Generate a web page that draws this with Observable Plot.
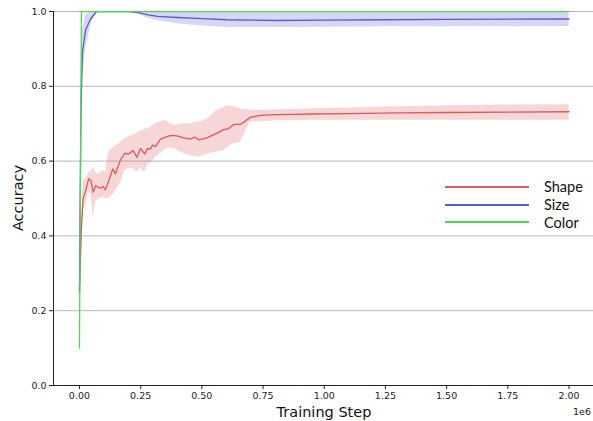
<!DOCTYPE html>
<html>
<head>
<meta charset="utf-8">
<script src="https://cdn.jsdelivr.net/npm/d3@7"></script>
<script src="https://cdn.jsdelivr.net/npm/@observablehq/plot@0.6"></script>
<style>
  body { margin: 0; background: #fff; }
  #wrap { position: relative; width: 593px; height: 421px; overflow: hidden; font-family: "DejaVu Sans", sans-serif; }
  #wrap svg { display: block; }
  .lab { position: absolute; color: #111; white-space: nowrap; }
  #legend { position: absolute; left: 445px; top: 178px; font-family: Lato, "Open Sans", sans-serif; font-size: 14.5px; color: #111; }
  #legend .row { display: flex; align-items: center; height: 17.7px; }
  #legend .sw { width: 84px; height: 2px; margin-right: 15px; }
</style>
</head>
<body>
<div id="wrap"></div>
<script>
// ---- data (steps in raw training steps) ----
const seriesNames  = ["Shape", "Size", "Color"];
const seriesColors = ["#dc5a5a", "#5a5ad8", "#4fd84f"];

const shapeStep = [0, 8000, 15000, 25000, 38000, 47000, 56000, 67000, 77000, 86000, 97000, 106000, 120000, 136000, 147000, 167000, 185000, 201000, 219000, 235000, 249000, 267000, 279000, 290000, 299000, 310000, 331000, 351000, 371000, 392000, 405000, 426000, 453000, 473000, 487000, 521000, 562000, 589000, 610000, 630000, 657000, 678000, 698000, 739000, 807000, 875000, 943000, 1100000, 1300000, 1500000, 1750000, 2000000];
const shapeMean = [0.25, 0.42, 0.50, 0.52, 0.553, 0.548, 0.517, 0.535, 0.530, 0.528, 0.532, 0.523, 0.548, 0.579, 0.566, 0.602, 0.621, 0.619, 0.628, 0.610, 0.634, 0.619, 0.634, 0.632, 0.643, 0.639, 0.659, 0.664, 0.668, 0.668, 0.666, 0.662, 0.659, 0.664, 0.657, 0.662, 0.675, 0.684, 0.687, 0.698, 0.698, 0.707, 0.717, 0.722, 0.724, 0.725, 0.726, 0.727, 0.729, 0.730, 0.731, 0.732];
const shapeLo   = [0.24, 0.40, 0.47, 0.48, 0.52, 0.51, 0.45, 0.49, 0.50, 0.50, 0.505, 0.50, 0.50, 0.51, 0.52, 0.54, 0.575, 0.58, 0.58, 0.57, 0.58, 0.57, 0.59, 0.595, 0.60, 0.61, 0.62, 0.632, 0.635, 0.632, 0.628, 0.62, 0.614, 0.612, 0.610, 0.618, 0.625, 0.628, 0.640, 0.646, 0.650, 0.680, 0.705, 0.705, 0.708, 0.708, 0.709, 0.709, 0.709, 0.709, 0.709, 0.709];
const shapeHi   = [0.26, 0.45, 0.55, 0.55, 0.57, 0.57, 0.585, 0.57, 0.565, 0.57, 0.575, 0.57, 0.625, 0.635, 0.64, 0.65, 0.66, 0.665, 0.67, 0.675, 0.68, 0.685, 0.688, 0.69, 0.695, 0.70, 0.705, 0.709, 0.70, 0.695, 0.697, 0.70, 0.699, 0.703, 0.704, 0.712, 0.735, 0.743, 0.748, 0.745, 0.740, 0.738, 0.736, 0.735, 0.737, 0.738, 0.740, 0.742, 0.745, 0.748, 0.750, 0.751];

const sizeStep = [0, 6000, 12000, 25000, 45000, 70000, 200000, 240000, 280000, 320000, 400000, 500000, 600000, 700000, 800000, 1000000, 1250000, 1500000, 2000000];
const sizeMean = [0.25, 0.72, 0.89, 0.95, 0.98, 1.0, 1.0, 0.997, 0.991, 0.987, 0.984, 0.981, 0.978, 0.977, 0.976, 0.977, 0.978, 0.979, 0.980];
const sizeLo   = [0.24, 0.62, 0.82, 0.90, 0.96, 1.0, 1.0, 0.993, 0.982, 0.975, 0.967, 0.961, 0.957, 0.957, 0.957, 0.958, 0.959, 0.959, 0.960];
const sizeHi   = [0.26, 0.80, 0.95, 0.99, 1.0, 1.0, 1.0, 1.0, 1.0, 1.0, 1.0, 1.0, 1.0, 1.0, 1.0, 1.0, 1.0, 1.0, 1.0];

const colorStep = [0, 8000, 2000000];
const colorMean = [0.10, 1.0, 1.0];
const colorLo   = [0.09, 1.0, 1.0];
const colorHi   = [0.11, 1.0, 1.0];

const xTicks = [0, 250000, 500000, 750000, 1000000, 1250000, 1500000, 1750000, 2000000];
const yTicks = [0.0, 0.2, 0.4, 0.6, 0.8, 1.0];
const xDomain = [-106000, 2100000];
const yDomain = [0, 1];

// ---- build tables ----
function rows(steps, mean, lo, hi, name) {
  return steps.map((s, i) => ({step: s, mean: mean[i], lo: lo[i], hi: hi[i], series: name}));
}
const shape = rows(shapeStep, shapeMean, shapeLo, shapeHi, seriesNames[0]);
const size  = rows(sizeStep,  sizeMean,  sizeLo,  sizeHi,  seriesNames[1]);
const color = rows(colorStep, colorMean, colorLo, colorHi, seriesNames[2]);
const tables = [shape, size, color];

const marks = [
  Plot.gridY(yTicks.filter(d => d > 0), {stroke: "#b8b8b8", strokeOpacity: 1, strokeWidth: 1})
];
tables.forEach((t, i) => {
  marks.push(Plot.areaY(t, {x: "step", y1: "lo", y2: "hi", fill: seriesColors[i], fillOpacity: 0.25, clip: true}));
});
tables.forEach((t, i) => {
  marks.push(Plot.line(t, {x: "step", y: "mean", stroke: seriesColors[i], strokeWidth: 1.3, clip: true}));
});
marks.push(
  Plot.axisX({ticks: xTicks, tickFormat: d => (d / 1e6).toFixed(2), label: null, tickSize: 4, tickPadding: 3, fontSize: 9.5, stroke: "#222"}),
  Plot.axisY({ticks: yTicks, tickFormat: d => d.toFixed(1), label: null, tickSize: 4, tickPadding: 3, fontSize: 9.5, stroke: "#222"}),
  Plot.ruleY([yDomain[0]], {stroke: "#222", strokeWidth: 1}),
  Plot.ruleX([xDomain[0]], {stroke: "#222", strokeWidth: 1})
);

const chart = Plot.plot({
  width: 593, height: 421,
  marginLeft: 53, marginRight: 0, marginTop: 11, marginBottom: 36,
  x: {domain: xDomain},
  y: {domain: yDomain},
  style: {fontFamily: "DejaVu Sans", fontSize: "9.5px", color: "#222", background: "white", overflow: "visible"},
  marks
});

const wrap = document.getElementById("wrap");
wrap.appendChild(chart);

// axis titles
function addLabel(text, css) {
  const d = document.createElement("div");
  d.className = "lab";
  d.textContent = text;
  Object.assign(d.style, css);
  wrap.appendChild(d);
  return d;
}
addLabel("Training Step", {left: "324px", top: "404px", fontSize: "14.5px", transform: "translateX(-50%)"});
addLabel("1e6", {left: "573px", top: "406px", fontSize: "9.5px"});
addLabel("Accuracy", {left: "18px", top: "198px", fontSize: "14.5px", transform: "translate(-50%, -50%) rotate(-90deg)"});

// legend
const leg = document.createElement("div");
leg.id = "legend";
seriesNames.forEach((n, i) => {
  const r = document.createElement("div");
  r.className = "row";
  const sw = document.createElement("div");
  sw.className = "sw";
  sw.style.background = seriesColors[i];
  const tx = document.createElement("span");
  tx.textContent = n;
  r.appendChild(sw); r.appendChild(tx);
  leg.appendChild(r);
});
wrap.appendChild(leg);
</script>
</body>
</html>
